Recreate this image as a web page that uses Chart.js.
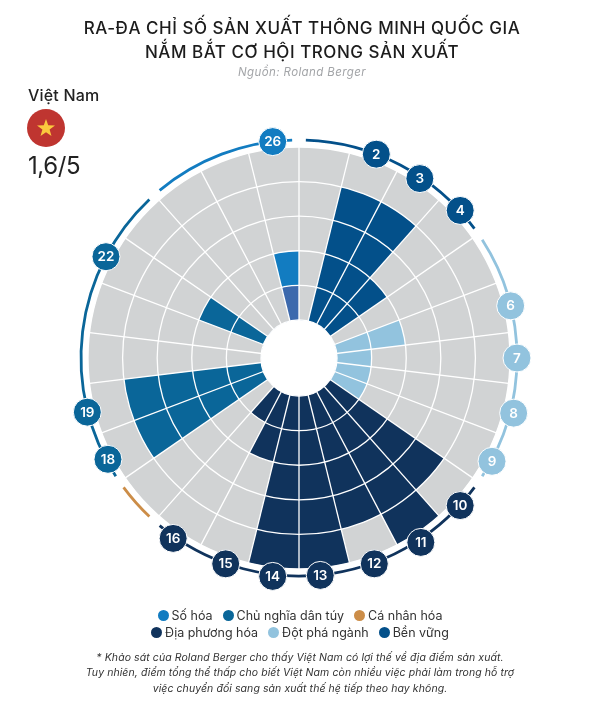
<!DOCTYPE html>
<html>
<head>
<meta charset="utf-8">
<script src="https://cdn.jsdelivr.net/npm/chart.js@4"></script>
<style>
html, body { margin: 0; padding: 0; background: #fff; }
body { width: 600px; height: 709px; position: relative; overflow: hidden; font-family: Inter, sans-serif; color: #222; }
#radar { position: absolute; left: 0; top: 0; width: 600px; height: 709px; }
.abs { position: absolute; }
#title { left: 2px; width: 600px; top: 17px; text-align: center; font-size: 17px; line-height: 23.5px; font-weight: 500; letter-spacing: .53px; color: #1c1c1c; }
#source { left: 2px; width: 600px; top: 65px; text-align: center; font-size: 11.5px; line-height: 15px; font-style: italic; letter-spacing: .4px; color: #a3a5a8; }
#country { left: 28px; top: 85px; font-size: 16px; line-height: 20px; font-weight: 500; letter-spacing: .2px; }
#flag { left: 27px; top: 109px; width: 38px; height: 38px; }
#score { left: 28px; top: 150px; font-size: 24px; line-height: 32px; font-weight: 400; letter-spacing: -.4px; }
#legend { left: 0; width: 600px; top: 607px; text-align: center; font-size: 12.5px; line-height: 17px; color: #333; }
#legend span.item { margin: 0 5px; white-space: nowrap; }
#legend i { display: inline-block; width: 11px; height: 11px; border-radius: 50%; margin-right: 3px; vertical-align: -1px; }
#note { left: 0; width: 600px; top: 650px; text-align: center; font-size: 10.5px; line-height: 15.3px; font-style: italic; letter-spacing: .08px; color: #333; }
</style>
</head>
<body>
<canvas id="radar" width="600" height="709"></canvas>
<div class="abs" id="title">RA-ĐA CHỈ SỐ SẢN XUẤT THÔNG MINH QUỐC GIA<br>NẮM BẮT CƠ HỘI TRONG SẢN XUẤT</div>
<div class="abs" id="source">Nguồn: Roland Berger</div>
<div class="abs" id="country">Việt Nam</div>
<svg class="abs" id="flag" viewBox="0 0 38 38">
  <circle cx="19" cy="19" r="19" fill="#bf3530"/>
  <polygon points="19,10 21.2,16.2 28,16.4 22.6,20.5 24.5,27 19,23.2 13.5,27 15.4,20.5 10,16.4 16.8,16.2" fill="#fbc93e"/>
</svg>
<div class="abs" id="score">1,6/5</div>
<div class="abs" id="legend"></div>
<div class="abs" id="note">* Khảo sát của Roland Berger cho thấy Việt Nam có lợi thế về địa điểm sản xuất.<br>Tuy nhiên, điểm tổng thể thấp cho biết Việt Nam còn nhiều việc phải làm trong hỗ trợ<br>việc chuyển đổi sang sản xuất thế hệ tiếp theo hay không.</div>

<script>
var labels = ["1","2","3","4","5","6","7","8","9","10","11","12","13","14","15","16","17","18","19","20","21","22","23","24","25","26"];
var scores = [0,4,4,2,0,2,1,1,1,4,5,4,5,5,2,1,0,4,4,0,0,2,0,0,0,2];
var firstRing = [0,0,0,0,0,0,0,0,0,0,0,0,0,0,0,0,0,0,0,0,0,0,0,0,0,1];
var fullScore = [5,5,5,5,5,5,5,5,5,5,5,5,5,5,5,5,5,5,5,5,5,5,5,5,5,5];

var groupNames = ["Số hóa", "Chủ nghĩa dân túy", "Cá nhân hóa", "Địa phương hóa", "Đột phá ngành", "Bền vững"];
var groupColors = ["#127cc1", "#0a6699", "#cc8d48", "#10335c", "#92c3de", "#03508a"];
var sectorGroup = [5,5,5,5,4,4,4,4,4,3,3,3,3,3,3,3,2,1,1,1,1,1,1,0,0,0];

var ringRadius = 218;
var holeValue = -1.1;
// the badges were placed by hand in the original, a few sit off the ring
var badgeNudge = { "3": [-3, 0], "4": [-2, -3], "8": [3, 3], "9": [0, 2], "10": [-2, 3], "11": [-2, 5],
                   "12": [-2, 2], "13": [-5, 1], "14": [0, 2], "15": [4, 2], "16": [-2, 1], "18": [2, 0], "19": [0, 2] };

// legend in html, two rows like the original
var legendHtml = [];
groupNames.forEach(function(name, i) {
    legendHtml.push('<span class="item"><i style="background:' + groupColors[i] + '"></i>' + name + '</span>');
    if (i == 2) legendHtml.push('<br>');
});
document.getElementById("legend").innerHTML = legendHtml.join("");

// white hole, outer ring by group, numbered badges
var ringPlugin = {
    id: 'ring',
    afterDraw: function(chart) {
        var c = chart.ctx, s = chart.scales.r;
        var step = Math.PI * 2 / labels.length;
        var gap = 1.8 * Math.PI / 180;
        c.save();
        c.beginPath();
        c.arc(s.xCenter, s.yCenter, s.getDistanceFromCenterForValue(0), 0, Math.PI * 2);
        c.fillStyle = '#fff';
        c.fill();

        var start = 0;
        for (var i = 1; i <= labels.length; i++) {
            if (i == labels.length || sectorGroup[i] != sectorGroup[start]) {
                c.beginPath();
                c.arc(s.xCenter, s.yCenter, ringRadius,
                    start * step - Math.PI / 2 + gap, i * step - Math.PI / 2 - gap);
                c.strokeStyle = groupColors[sectorGroup[start]];
                c.lineWidth = 2.8;
                c.stroke();
                start = i;
            }
        }

        labels.forEach(function(label, i) {
            if (!scores[i]) return;
            var a = (i + 0.5) * step - Math.PI / 2;
            var nudge = badgeNudge[label] || [0, 0];
            var x = s.xCenter + Math.cos(a) * ringRadius + nudge[0];
            var y = s.yCenter + Math.sin(a) * ringRadius + nudge[1];
            c.beginPath();
            c.arc(x, y, 14, 0, Math.PI * 2);
            c.fillStyle = groupColors[sectorGroup[i]];
            c.fill();
            c.strokeStyle = '#fff';
            c.lineWidth = 1;
            c.stroke();
            c.fillStyle = '#fff';
            c.font = '600 13.5px Inter';
            c.textAlign = 'center';
            c.textBaseline = 'middle';
            c.fillText(label, x, y + 0.5);
        });
        c.restore();
    }
};

new Chart(document.getElementById("radar"), {
    type: 'polarArea',
    data: {
        labels: labels,
        datasets: [
            { data: firstRing, backgroundColor: '#3c69ad', borderWidth: 0 },
            { data: scores, backgroundColor: sectorGroup.map(function(g) { return groupColors[g]; }), borderWidth: 0 },
            { data: fullScore, backgroundColor: '#d1d3d4', borderWidth: 0 }
        ]
    },
    options: {
        responsive: false,
        animation: false,
        layout: { padding: { left: 88, right: 90, top: 147, bottom: 140 } },
        plugins: { legend: { display: false }, tooltip: { enabled: false } },
        scales: {
            r: {
                min: holeValue,
                max: 5,
                beginAtZero: false,
                afterBuildTicks: function(axis) {
                    axis.ticks = axis.ticks.filter(function(t) { return t.value >= 0; });
                },
                ticks: { display: false, stepSize: 1 },
                grid: { circular: true, color: '#fff', lineWidth: 1.3, z: 1 },
                angleLines: { display: true, color: '#fff', lineWidth: 1.3 },
                pointLabels: { display: false }
            }
        }
    },
    plugins: [ringPlugin]
});
</script>
</body>
</html>
